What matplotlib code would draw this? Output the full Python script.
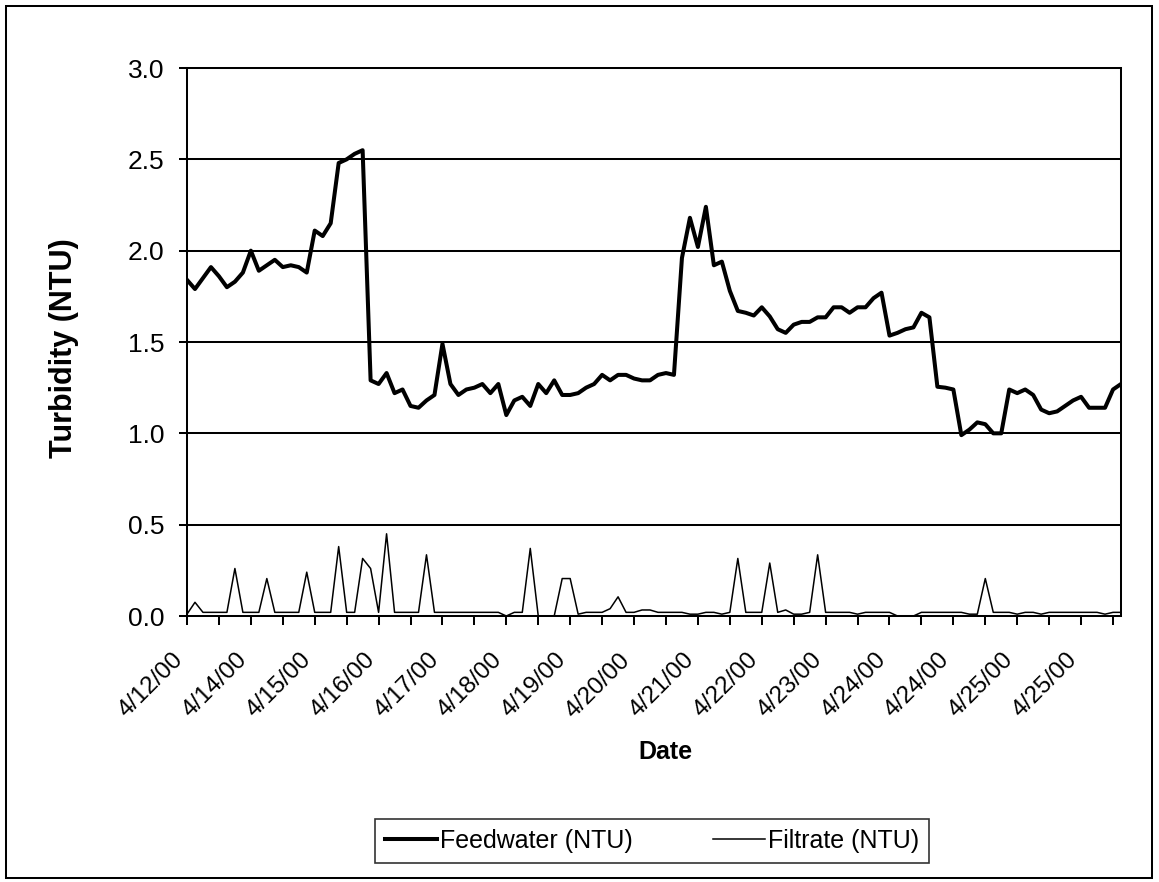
# turbidity chart - feedwater vs filtrate
import numpy as np
import matplotlib
matplotlib.use('Agg')
import matplotlib.pyplot as plt
import matplotlib.transforms as mtransforms
from matplotlib.patches import Rectangle

plt.rcParams['font.family'] = ['Liberation Sans', 'DejaVu Sans']

# data (one reading every ~3 hours)
feedwater = [1.84, 1.79, 1.85, 1.91, 1.86, 1.80, 1.83, 1.88, 2.00, 1.89,
             1.92, 1.95, 1.91, 1.92, 1.91, 1.88, 2.11, 2.08, 2.15, 2.48,
             2.50, 2.53, 2.55, 1.29, 1.27, 1.33, 1.22, 1.24, 1.15, 1.14,
             1.18, 1.21, 1.49, 1.27, 1.21, 1.24, 1.25, 1.27, 1.22, 1.27,
             1.10, 1.18, 1.20, 1.15, 1.27, 1.22, 1.29, 1.21, 1.21, 1.22,
             1.25, 1.27, 1.32, 1.29, 1.32, 1.32, 1.30, 1.29, 1.29, 1.32,
             1.33, 1.32, 1.96, 2.18, 2.02, 2.24, 1.92, 1.94, 1.78, 1.67,
             1.66, 1.645, 1.69, 1.64, 1.57, 1.55, 1.595, 1.61, 1.61, 1.635,
             1.635, 1.69, 1.69, 1.66, 1.69, 1.69, 1.74, 1.77, 1.535, 1.55,
             1.57, 1.58, 1.66, 1.635, 1.255, 1.25, 1.24, 0.99, 1.02, 1.06,
             1.05, 1.00, 1.00, 1.24, 1.22, 1.24, 1.21, 1.13, 1.11, 1.12,
             1.15, 1.18, 1.20, 1.14, 1.14, 1.14, 1.24, 1.27]

filtrate = [0.01, 0.075, 0.02, 0.02, 0.02, 0.02, 0.26, 0.02, 0.02, 0.02,
            0.205, 0.02, 0.02, 0.02, 0.02, 0.24, 0.02, 0.02, 0.02, 0.38,
            0.02, 0.02, 0.315, 0.26, 0.02, 0.45, 0.02, 0.02, 0.02, 0.02,
            0.335, 0.02, 0.02, 0.02, 0.02, 0.02, 0.02, 0.02, 0.02, 0.02,
            0.0, 0.02, 0.02, 0.37, 0.0, 0.0, 0.0, 0.205, 0.205, 0.01,
            0.02, 0.02, 0.02, 0.04, 0.105, 0.02, 0.02, 0.033, 0.033, 0.02,
            0.02, 0.02, 0.02, 0.01, 0.01, 0.02, 0.02, 0.01, 0.02, 0.315,
            0.02, 0.02, 0.02, 0.29, 0.02, 0.033, 0.01, 0.01, 0.02, 0.335,
            0.02, 0.02, 0.02, 0.02, 0.01, 0.02, 0.02, 0.02, 0.02, 0.0,
            0.0, 0.0, 0.02, 0.02, 0.02, 0.02, 0.02, 0.02, 0.01, 0.01,
            0.205, 0.02, 0.02, 0.02, 0.01, 0.02, 0.02, 0.01, 0.02, 0.02,
            0.02, 0.02, 0.02, 0.02, 0.02, 0.01, 0.02, 0.02]

date_labels = ['4/12/00', '4/14/00', '4/15/00', '4/16/00', '4/17/00',
               '4/18/00', '4/19/00', '4/20/00', '4/21/00', '4/22/00',
               '4/23/00', '4/24/00', '4/24/00', '4/25/00', '4/25/00']

x = np.arange(len(feedwater))

fig = plt.figure(figsize=(11.59, 8.82), dpi=100)
ax = fig.add_axes([187/1159, 1 - 616/882, (1121 - 187)/1159, (616 - 68)/882])

ax.plot(x, feedwater, color='black', lw=2.9, label='Feedwater (NTU)', zorder=3)
ax.plot(x, filtrate, color='black', lw=1.1, label='Filtrate (NTU)', zorder=3)

ax.set_xlim(0, len(x) - 1)
ax.set_ylim(0, 3.0)
ax.set_yticks(np.arange(0, 3.01, 0.5))
ax.set_yticklabels(['%.1f' % v for v in np.arange(0, 3.01, 0.5)], fontsize=19)
ax.yaxis.grid(True, color='black', lw=1.45)
ax.set_axisbelow(True)

# tick every 4 points, label every 8 (labels placed by hand so they sit left of the tick)
ticks = np.arange(0, len(x), 4)
ax.set_xticks(ticks)
ax.set_xticklabels([])
lab_trans = ax.get_xaxis_transform() + mtransforms.ScaledTranslation(-0.15, -0.33, fig.dpi_scale_trans)
for k, t in enumerate(ticks[::2]):
    ax.text(t, 0, date_labels[k], transform=lab_trans, rotation=45,
            rotation_mode='anchor', ha='right', va='top', fontsize=17.5)

ax.tick_params(axis='x', length=6.5, width=1.45, direction='out')
ax.tick_params(axis='y', length=5.5, width=1.45, pad=11, direction='out')
for s in ax.spines.values():
    s.set_color('black')
    s.set_linewidth(1.45)

fig.text(64/1159, 1 - 348/882, 'Turbidity (NTU)', rotation=90, fontsize=22,
         fontweight='bold', ha='center', va='center')
fig.text(665/1159, 1 - 752/882, 'Date', fontsize=18, fontweight='bold',
         ha='center', va='center')

leg = fig.legend(loc='center', bbox_to_anchor=(652/1159, 1 - 841/882), ncol=2,
                 fontsize=18, frameon=True, fancybox=False, edgecolor='black',
                 handlelength=2.1, handletextpad=0.12, columnspacing=3.2,
                 borderpad=0.4)
leg.get_frame().set_linewidth(1.2)

# outer chart border
fig.patches.append(Rectangle((6/1159, 1 - 878/882), (1152 - 6)/1159, (878 - 6)/882,
                             transform=fig.transFigure, fill=False,
                             edgecolor='black', lw=1.45))

fig.savefig('out.png', dpi=100)
